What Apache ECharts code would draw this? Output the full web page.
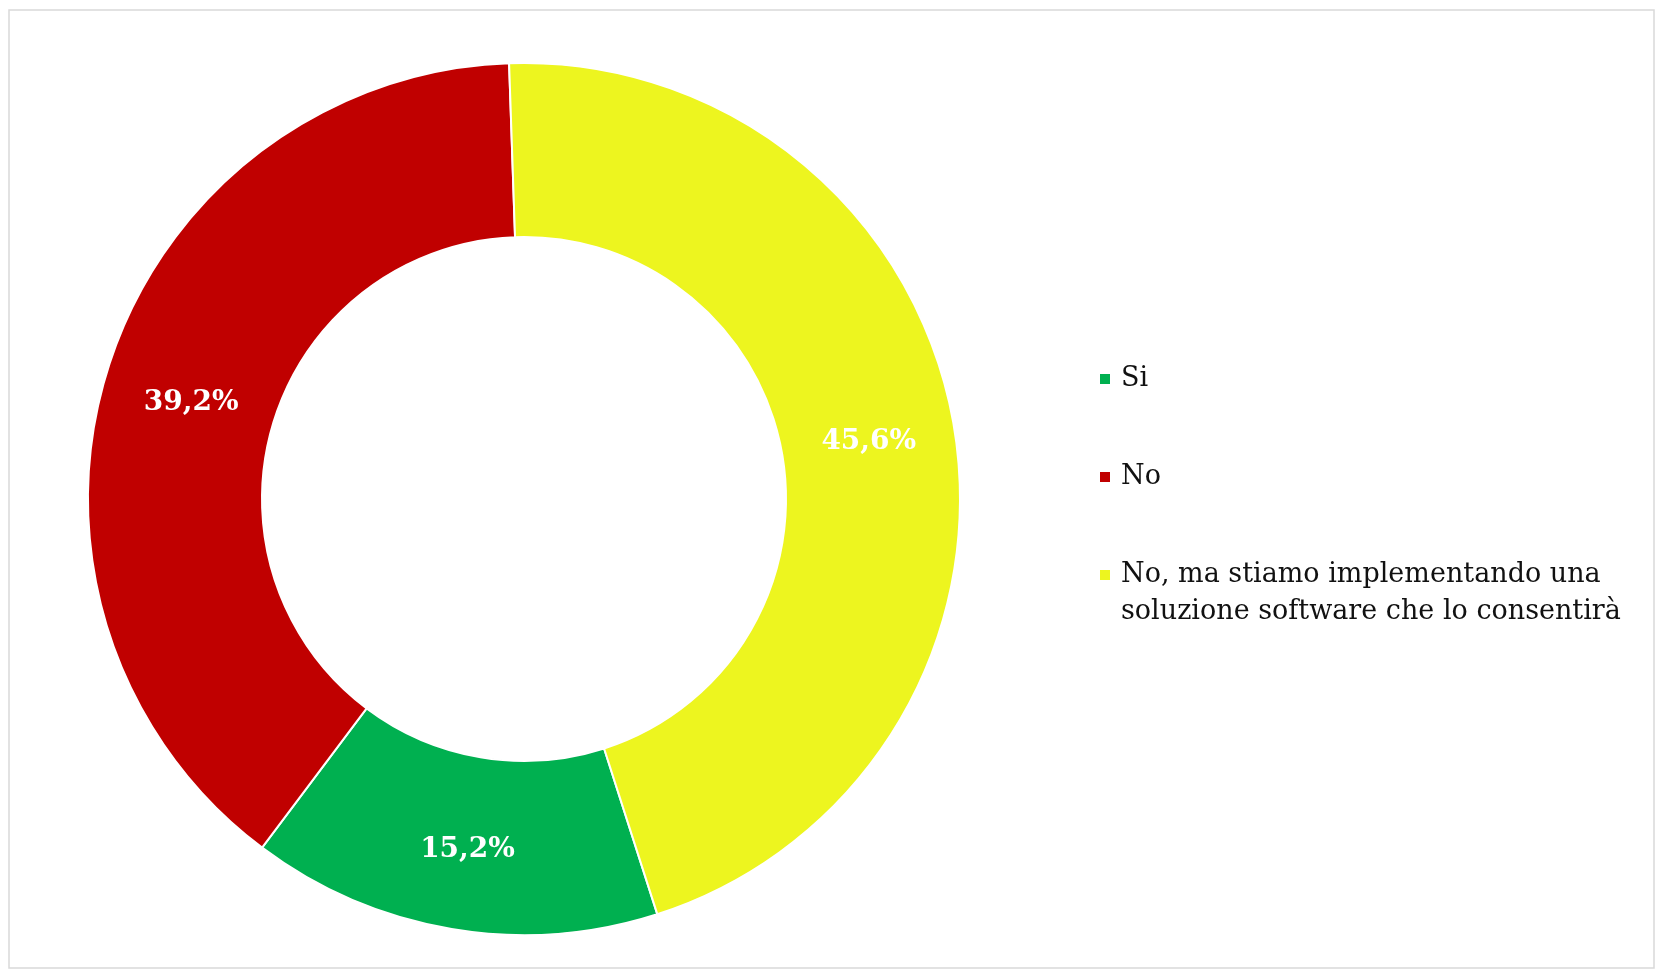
<!DOCTYPE html>
<html>
<head>
<meta charset="utf-8">
<style>
html,body{margin:0;padding:0;background:#fff;}
#chart{width:1657px;height:970px;}
</style>
<script src="https://cdn.jsdelivr.net/npm/echarts@6/dist/echarts.min.js"></script>
</head>
<body>
<div id="chart"></div>
<script>
const categories = ['Si', 'No', 'No, ma stiamo implementando una\nsoluzione software che lo consentirà'];
const values = [15.2, 39.2, 45.6];
const colors = ['#00B050', '#C00000', '#EDF51F'];

const chart = echarts.init(document.getElementById('chart'), null, {renderer: 'canvas'});
const serif = '"DejaVu Serif", "Liberation Serif", serif';
const legendBase = {
  orient: 'vertical',
  left: 1098,
  padding: 0,
  icon: 'rect',
  itemWidth: 12,
  itemHeight: 12,
  selectedMode: false,
  formatter: name => name.indexOf('\n') >= 0 ? '\n' + name : name,
  textStyle: {fontFamily: serif, fontSize: 27, color: '#111', lineHeight: 37, padding: [0, 0, 0, 5]}
};
const labelOffsets = [[2, 4], [3, 9], [-2, 3]];
chart.setOption({
  animation: false,
  backgroundColor: '#fff',
  graphic: [{
    type: 'rect',
    shape: {x: 9, y: 10, width: 1645, height: 958},
    style: {fill: 'none', stroke: '#d9d9d9', lineWidth: 1.5},
    silent: true
  }],
  legend: [
    Object.assign({}, legendBase, {data: [categories[0]], top: 379 - 18.5}),
    Object.assign({}, legendBase, {data: [categories[1]], top: 477 - 18.5}),
    Object.assign({}, legendBase, {data: [categories[2]], top: 575 - 55.5})
  ],
  series: [{
    type: 'pie',
    center: [524, 499],
    radius: [262, 436],
    startAngle: 287.8,
    clockwise: true,
    avoidLabelOverlap: false,
    itemStyle: {borderColor: '#fff', borderWidth: 2},
    label: {
      show: true,
      position: 'inside',
      color: '#fff',
      fontFamily: serif,
      fontWeight: 'bold',
      fontSize: 28,
      formatter: p => p.value.toFixed(1).replace('.', ',') + '%'
    },
    labelLine: {show: false},
    emphasis: {disabled: true},
    data: categories.map((c, i) => ({
      name: c, value: values[i],
      itemStyle: {color: colors[i]},
      label: {offset: labelOffsets[i]}
    }))
  }]
});
</script>
</body>
</html>
